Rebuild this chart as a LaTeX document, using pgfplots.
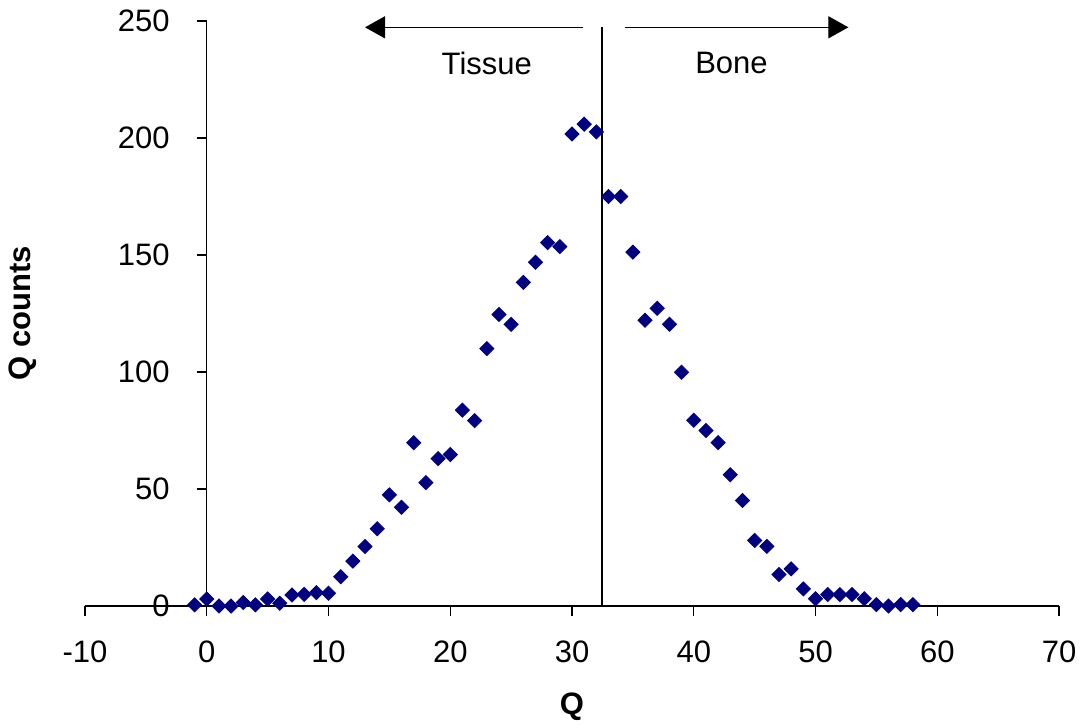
\documentclass[border=0pt]{standalone}
\usepackage{pgfplots}
\pgfplotsset{compat=1.18}
\usepackage{fontspec}
\setmainfont{Liberation Sans}
\usetikzlibrary{arrows.meta}
\definecolor{navy}{RGB}{0,0,128}

\begin{document}
\begin{tikzpicture}
\begin{axis}[
    name=ax,
    scale only axis,
    width=487pt, height=292.5pt,
    xmin=-10, xmax=70, ymin=0, ymax=250,
    axis x line=bottom, axis y line=middle,
    axis line style={-, black, line width=0.6pt},
    hide obscured x ticks=false, hide obscured y ticks=false,
    xtick={-10,0,...,70}, ytick={0,50,...,250},
    tick align=outside, major tick length=5pt,
    tick style={black, line width=0.6pt},
    font=\fontsize{15.5}{18}\selectfont,
    /pgf/number format/assume math mode=true,
    xticklabel style={yshift=-9pt},
    yticklabel style={xshift=-10pt},
    clip=false,
    xlabel={\textbf{Q}},
    ylabel={\textbf{Q counts}},
    every axis x label/.style={at={(axis description cs:0.5,-0.1726)}, anchor=center},
    every axis y label/.style={at={(axis description cs:-0.0637,0.5)}, rotate=90, anchor=center},
]
\addplot[only marks, mark=square*, mark size=2.5pt,
    mark options={rotate=45, fill=navy, draw=navy}] coordinates {
(-1,0.5) (0,3) (1,0) (2,0) (3,1.5) (4,0.5) (5,3) (6,1.2) (7,4.7) (8,5)
(9,5.7) (10,5.5) (11,12.5) (12,19.2) (13,25.4) (14,33) (15,47.5) (16,42.2)
(17,69.8) (18,52.7) (19,63) (20,64.7) (21,83.7) (22,79.2) (23,110) (24,124.6)
(25,120.4) (26,138.3) (27,146.9) (28,155.3) (29,153.6) (30,201.7) (31,205.9)
(32,202.6) (33,175) (34,175) (35,151.2) (36,122.1) (37,127.2) (38,120.4)
(39,99.9) (40,79.4) (41,75) (42,69.8) (43,56.1) (44,45.1) (45,28) (46,25.5)
(47,13.5) (48,15.9) (49,7.3) (50,3.1) (51,4.9) (52,4.9) (53,4.9) (54,3.1)
(55,0.6) (56,0) (57,0.6) (58,0.6)
};
% divider and annotations
\draw[line width=1pt] (axis cs:32.5,0) -- (axis cs:32.5,247.6);
\draw[line width=0.6pt, -{Triangle[length=10pt,width=11pt]}] (axis cs:30.9,247.3) -- (axis cs:13,247.3);
\draw[line width=0.6pt, -{Triangle[length=10pt,width=11pt]}] (axis cs:34.35,247.3) -- (axis cs:52.7,247.3);
\node at (axis cs:23,232) {Tissue};
\node at (axis cs:43.1,232) {Bone};
\end{axis}
\path ([shift={(-42.5pt,-60pt)}]ax.south west) rectangle ([shift={(12.5pt,10.5pt)}]ax.north east);
\end{tikzpicture}
\end{document}
